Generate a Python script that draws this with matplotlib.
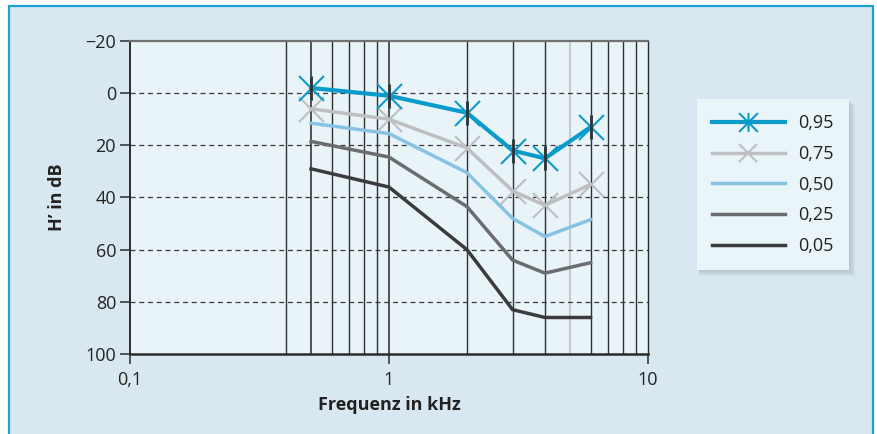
import numpy as np
import matplotlib
matplotlib.use("Agg")
import matplotlib.pyplot as plt
from matplotlib.path import Path
from matplotlib.patches import Rectangle, FancyBboxPatch
from matplotlib.ticker import FixedLocator, FixedFormatter

# Données
freqs = [0.5, 1, 2, 3, 4, 6]
h_095 = [-2, 1, 7.5, 22, 25, 13]
h_075 = [6, 10, 21, 37.5, 43, 35]
h_050 = [11.5, 15.5, 30.5, 48, 55, 48.5]
h_025 = [18.5, 24.5, 43.5, 64, 69, 65]
h_005 = [29, 36, 60, 83, 86, 86]

labels = ["0,95", "0,75", "0,50", "0,25", "0,05"]
x_ticks = [0.1, 1, 10]
x_ticklabels = ["0,1", "1", "10"]
y_ticks = [-20, 0, 20, 40, 60, 80, 100]
y_ticklabels = ["\u221220", "0", "20", "40", "60", "80", "100"]
grid_freqs = [0.4, 0.5, 0.6, 0.7, 0.8, 0.9, 1, 2, 3, 4, 5, 6, 7, 8, 9]

plt.rcParams['font.family'] = ['Open Sans', 'DejaVu Sans']
TXT = '#222222'
BG_OUT = '#d9e8f0'
BG_IN = '#e9f4f9'

W, H = 878, 434
fig = plt.figure(figsize=(W / 100, H / 100), dpi=100, facecolor='white')

# Cadre bleu autour de la figure
frame = Rectangle((9.5 / W, -0.1), (873.5 - 9.5) / W, 1 - 6.5 / H + 0.1,
                  transform=fig.transFigure, facecolor=BG_OUT,
                  edgecolor='#1ba1d9', lw=1.6, zorder=-5)
fig.patches.append(frame)

ax = fig.add_axes([130 / W, 80 / H, 518 / W, 313 / H])
ax.set_facecolor(BG_IN)
ax.set_xscale('log')
ax.set_xlim(0.1, 10)
ax.set_ylim(100, -20)

# Grille verticale (fréquences) et horizontale (pointillés)
for f in grid_freqs:
    if f == 5:
        ax.axvline(f, color='#bdbdbd', lw=1.1, zorder=1)
    elif f in (0.5, 1):
        ax.axvline(f, color='#505050', lw=1.4, zorder=1)
    else:
        ax.axvline(f, color='#2f2f2f', lw=1.0, zorder=1)
for y in [0, 20, 40, 60, 80]:
    ax.axhline(y, color='#3a3a3a', lw=0.9, ls=(0, (4, 3)), zorder=1)

# Marqueur : croix + trait vertical
star = Path([(-1, -1), (1, 1), (-1, 1), (1, -1), (0, -1), (0, 1)],
            [Path.MOVETO, Path.LINETO, Path.MOVETO, Path.LINETO,
             Path.MOVETO, Path.LINETO])

ax.plot(freqs, h_005, color='#3b3b3d', lw=2.5, zorder=3, label=labels[4])
ax.plot(freqs, h_025, color='#6b6c6f', lw=2.5, zorder=3, label=labels[3])
ax.plot(freqs, h_050, color='#86c3e3', lw=2.5, zorder=3, label=labels[2])
ax.plot(freqs, h_075, color='#bebfc2', lw=2.5, zorder=3, marker='x',
        ms=18, mew=1.5, label=labels[1])
ax.plot(freqs, h_095, color='#0a9bcb', lw=3.0, zorder=4, marker=star,
        ms=18, mew=1.5, label=labels[0])
# trait vertical sombre au centre des marqueurs
ax.plot(freqs, h_095, ls='none', marker='|', ms=17, mew=2.0,
        color='#333333', zorder=5)

# Axes
for side in ['left', 'bottom', 'right']:
    ax.spines[side].set_color('#2b2b2b')
ax.spines['top'].set_color('#707070')
ax.spines['top'].set_linewidth(1.6)
ax.spines['left'].set_linewidth(1.4)
ax.spines['bottom'].set_linewidth(1.8)
ax.spines['right'].set_linewidth(1.0)

ax.xaxis.set_major_locator(FixedLocator(x_ticks))
ax.xaxis.set_major_formatter(FixedFormatter(x_ticklabels))
ax.xaxis.set_minor_locator(FixedLocator([]))
ax.yaxis.set_major_locator(FixedLocator(y_ticks))
ax.yaxis.set_major_formatter(FixedFormatter(y_ticklabels))
ax.tick_params(axis='both', direction='out', length=7, width=1.1,
               color='#2b2b2b', labelsize=13, labelcolor=TXT)
ax.tick_params(axis='x', pad=5)
ax.tick_params(axis='y', pad=3)

ax.set_xlabel("Frequenz in kHz", fontsize=13, fontweight='bold',
              color=TXT, labelpad=5)
ax.set_ylabel("H\u2019 in dB", fontsize=13, fontweight='bold',
              color=TXT, labelpad=14)

# Légende
handles, labs = ax.get_legend_handles_labels()
order = [4, 3, 2, 1, 0]
leg = fig.legend([handles[i] for i in order], [labs[i] for i in order],
                 loc='upper left', bbox_to_anchor=(697 / W, 1 - 99 / H),
                 frameon=True, fancybox=False, facecolor='#eaf5f9',
                 edgecolor='none', framealpha=1, fontsize=13,
                 handlelength=4.0, handletextpad=0.75, labelspacing=0.7,
                 borderpad=0.85, borderaxespad=0, markerscale=0.75)
for t in leg.get_texts():
    t.set_color(TXT)

# Ombre douce derrière la légende
fig.canvas.draw()
bb = leg.get_window_extent()
for k in range(6):
    off = 1 + k
    sh = FancyBboxPatch((bb.x0 + 2, bb.y0 - off), bb.width + off - 2,
                        bb.height, boxstyle='square,pad=0',
                        transform=None, facecolor='#7d8d99',
                        edgecolor='none', alpha=0.07, zorder=4)
    fig.patches.append(sh)

fig.savefig("out.png", dpi=100, facecolor=fig.get_facecolor())
